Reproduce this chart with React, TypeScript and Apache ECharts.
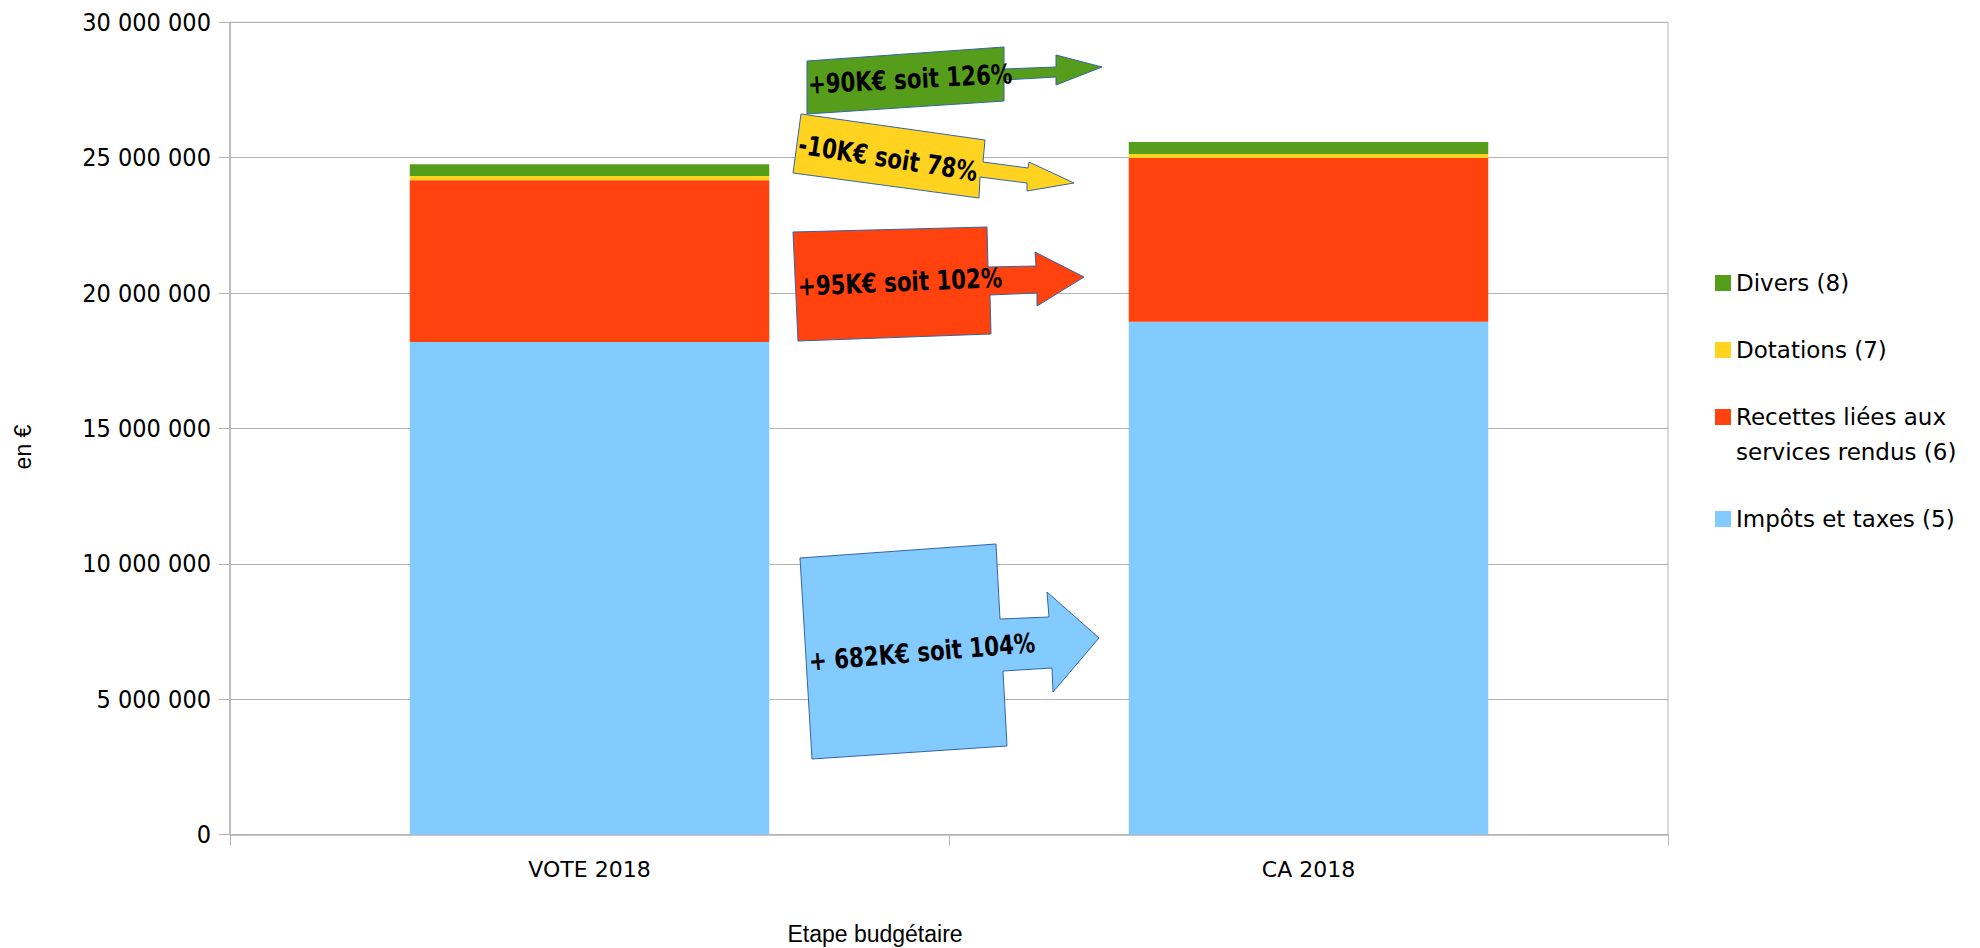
import React, { useEffect, useRef } from "react";
import * as echarts from "echarts";

const categories = ["VOTE 2018", "CA 2018"];
const seriesNames = [
  "Impôts et taxes (5)",
  "Recettes liées aux services rendus (6)",
  "Dotations (7)",
  "Divers (8)",
];
const impots = [18190000, 18940000];
const recettes = [5980000, 6050000];
const dotations = [150000, 150000];
const divers = [440000, 440000];
const seriesColors = ["#83caff", "#ff420e", "#ffd320", "#579d1c"];
const yTicks = { min: 0, max: 30000000, interval: 5000000 };

const annotations = [
  {
    text: "+90K€ soit 126%",
    fill: "#579d1c",
    points: [[807, 61], [1004, 47], [1004, 69], [1056, 67], [1056, 55], [1102, 67], [1056, 85], [1056, 77], [1004, 80], [1004, 101], [807, 114]],
    tx: 910, ty: 79, rot: 3,
  },
  {
    text: "-10K€ soit 78%",
    fill: "#ffd320",
    points: [[801, 114], [985, 140], [983, 162], [1028, 168], [1029, 162], [1074, 183], [1027, 191], [1027, 183], [980, 177], [979, 198], [793, 173]],
    tx: 888, ty: 158, rot: -8.8,
  },
  {
    text: "+95K€ soit 102%",
    fill: "#ff420e",
    points: [[793, 232], [987, 227], [988, 267], [1036, 266], [1035, 252], [1084, 277], [1037, 306], [1037, 293], [990, 295], [991, 334], [798, 341]],
    tx: 900, ty: 282, rot: 2.5,
  },
  {
    text: "+ 682K€ soit 104%",
    fill: "#83caff",
    points: [[800, 558], [996, 544], [1000, 619], [1049, 617], [1047, 592], [1099, 638], [1053, 692], [1052, 668], [1003, 671], [1007, 746], [812, 759]],
    tx: 922, ty: 652, rot: 4.8,
  },
];

const fmt = (v: number) => String(v).replace(/\B(?=(\d{3})+(?!\d))/g, " ");

export default function App() {
  const ref = useRef<HTMLDivElement>(null);
  useEffect(() => {
    if (!ref.current) return;
    const chart = echarts.init(ref.current, null, { renderer: "svg" });
    const dataArrays = [impots, recettes, dotations, divers];
    const legendFont = { fontFamily: "DejaVu Sans", fontSize: 23, color: "#000", lineHeight: 35 };
    const legendBase = {
      orient: "vertical",
      left: 1715,
      padding: 0,
      itemWidth: 16,
      itemHeight: 16,
      icon: "rect",
      selectedMode: false,
      textStyle: legendFont,
    };
    const graphics: any[] = [];
    annotations.forEach((a) => {
      graphics.push({
        type: "polygon",
        shape: { points: a.points },
        style: { fill: a.fill, stroke: "#3465a4", lineWidth: 1 },
        z: 10,
      });
    });
    annotations.forEach((a) => {
      graphics.push({
        type: "text",
        x: a.tx,
        y: a.ty,
        rotation: (a.rot * Math.PI) / 180,
        scaleX: 0.79,
        z: 11,
        style: {
          text: a.text,
          fill: "#000",
          font: "bold 27px 'DejaVu Sans'",
          textAlign: "center",
          textVerticalAlign: "middle",
        },
      });
    });
    graphics.push({
      type: "text",
      x: 23,
      y: 447,
      rotation: Math.PI / 2,
      style: {
        text: "en €",
        fill: "#000",
        font: "23px 'Liberation Sans'",
        textAlign: "center",
        textVerticalAlign: "middle",
      },
    });
    graphics.push({
      type: "text",
      x: 875,
      y: 934,
      style: {
        text: "Etape budgétaire",
        fill: "#000",
        font: "23px 'Liberation Sans'",
        textAlign: "center",
        textVerticalAlign: "middle",
      },
    });

    chart.setOption({
      animation: false,
      backgroundColor: "#fff",
      grid: {
        left: 230,
        right: 312,
        top: 22.3,
        bottom: 113.5,
        show: true,
        borderColor: "#b3b3b3",
        borderWidth: 1,
      },
      legend: [
        { ...legendBase, top: 265.5, data: [seriesNames[3]] },
        { ...legendBase, top: 332.5, data: [seriesNames[2]] },
        {
          ...legendBase,
          top: 364.5,
          data: [seriesNames[1]],
          formatter: () => " \nRecettes liées aux\nservices rendus (6)",
        },
        { ...legendBase, top: 501.5, data: [seriesNames[0]] },
      ],
      xAxis: {
        type: "category",
        data: categories,
        axisLine: { show: true, lineStyle: { color: "#b3b3b3", width: 1.5 } },
        axisTick: { show: true, length: 11, lineStyle: { color: "#b3b3b3" } },
        axisLabel: {
          margin: 24,
          fontFamily: "DejaVu Sans",
          fontSize: 22,
          color: "#000",
        },
      },
      yAxis: {
        type: "value",
        min: yTicks.min,
        max: yTicks.max,
        interval: yTicks.interval,
        axisLine: { show: true, lineStyle: { color: "#b3b3b3", width: 1.5 } },
        axisTick: { show: true, length: 11, lineStyle: { color: "#b3b3b3" } },
        splitLine: { show: true, lineStyle: { color: "#b3b3b3", width: 1 } },
        axisLabel: {
          margin: 19,
          fontFamily: "'DejaVu Sans Condensed', 'DejaVu Sans'",
          fontSize: 25,
          color: "#000",
          formatter: (v: number) => fmt(v),
        },
      },
      series: seriesNames.map((name, i) => ({
        name,
        type: "bar",
        stack: "total",
        barWidth: "50%",
        data: dataArrays[i],
        itemStyle: { color: seriesColors[i] },
      })),
      graphic: graphics,
    });
    return () => chart.dispose();
  }, []);
  return (
    <div
      ref={ref}
      style={{ position: "absolute", left: 0, top: 0, width: 1980, height: 948 }}
    />
  );
}
